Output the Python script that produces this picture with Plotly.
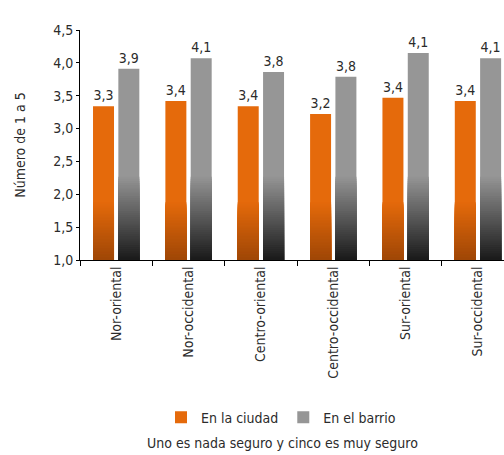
import plotly.graph_objects as go

categories = ["Nor-oriental", "Nor-occidental", "Centro-oriental",
              "Centro-occidental", "Sur-oriental", "Sur-occidental"]
ciudad = [3.34, 3.42, 3.34, 3.22, 3.47, 3.42]
barrio = [3.91, 4.07, 3.86, 3.79, 4.15, 4.07]
ciudad_labels = ["3,3", "3,4", "3,4", "3,2", "3,4", "3,4"]
barrio_labels = ["3,9", "4,1", "3,8", "3,8", "4,1", "4,1"]
y_ticks = [1.0, 1.5, 2.0, 2.5, 3.0, 3.5, 4.0, 4.5]

FONT = "DejaVu Sans Condensed, Liberation Sans Narrow, sans-serif"
TXT = "#2b2b2b"
BASE = 1.0

ORANGE_TOP = (229, 106, 11)
ORANGE_BOT = (158, 70, 6)
GRAY_TOP = (150, 150, 150)
GRAY_BOT = (24, 24, 24)

W = 0.29
OFF_C = -0.32
OFF_B = 0.03

fig = go.Figure()


def rgb(c):
    return "rgb(%d,%d,%d)" % c


fig.add_trace(go.Bar(
    name="En la ciudad", x=categories, y=[v - BASE for v in ciudad], base=BASE,
    width=W, offset=OFF_C, marker=dict(color=rgb(ORANGE_TOP), line=dict(width=0)),
    text=ciudad_labels, textposition="outside", cliponaxis=False,
    textfont=dict(family=FONT, size=14, color=TXT),
))
fig.add_trace(go.Bar(
    name="En el barrio", x=categories, y=[v - BASE for v in barrio], base=BASE,
    width=W, offset=OFF_B, marker=dict(color=rgb(GRAY_TOP), line=dict(width=0)),
    text=barrio_labels, textposition="outside", cliponaxis=False,
    textfont=dict(family=FONT, size=14, color=TXT),
))


def gradient(top_c, bot_c, height, offset, steps=40):
    # draw from tallest (lightest) to shortest (darkest), each from the base,
    # so there are no seams between the bands
    h = height / steps
    for k in range(steps - 1, 0, -1):
        t = k / steps  # 0 at bottom, 1 at top
        c = tuple(int(round(bot_c[i] + (top_c[i] - bot_c[i]) * t)) for i in range(3))
        fig.add_trace(go.Bar(
            x=categories, y=[k * h] * len(categories), base=BASE,
            width=W, offset=offset, marker=dict(color=rgb(c), line=dict(width=0)),
            showlegend=False, hoverinfo="skip",
        ))


gradient(ORANGE_TOP, ORANGE_BOT, 0.9, OFF_C)
gradient(GRAY_TOP, GRAY_BOT, 1.3, OFF_B)

fig.update_layout(
    width=504, height=455,
    barmode="overlay",
    margin=dict(l=80, r=0, t=30, b=195),
    paper_bgcolor="white", plot_bgcolor="white",
    separators=",.",
    font=dict(family=FONT, size=14, color=TXT),
    xaxis=dict(
        range=[-0.5, 5.36], tickangle=-90, showline=True, linecolor="black", linewidth=1,
        ticks="outside", ticklen=5, tickcolor="black", tickson="boundaries",
        showgrid=False, zeroline=False,
        tickfont=dict(family=FONT, size=14, color=TXT),
    ),
    yaxis=dict(
        range=[1.0, 4.5], tickvals=y_ticks, tickformat=".1f",
        showline=True, linecolor="black", linewidth=1,
        ticks="outside", ticklen=3, tickcolor="black",
        showgrid=False, zeroline=False,
        tickfont=dict(family=FONT, size=14, color=TXT),
        title=dict(text="Número de 1 a 5", font=dict(family=FONT, size=14, color=TXT),
                   standoff=24),
    ),
    legend=dict(orientation="h", x=(281 - 80) / 424, xanchor="center", y=-0.685,
                yanchor="middle", font=dict(family=FONT, size=14, color=TXT), itemwidth=30,
                bgcolor="rgba(0,0,0,0)"),
    annotations=[dict(
        text="Uno es nada seguro y cinco es muy seguro", xref="paper", yref="paper",
        x=(282 - 80) / 424, y=-0.795, xanchor="center", yanchor="middle", showarrow=False,
        font=dict(family=FONT, size=14, color=TXT),
    )],
)

fig.write_html("out.html")
